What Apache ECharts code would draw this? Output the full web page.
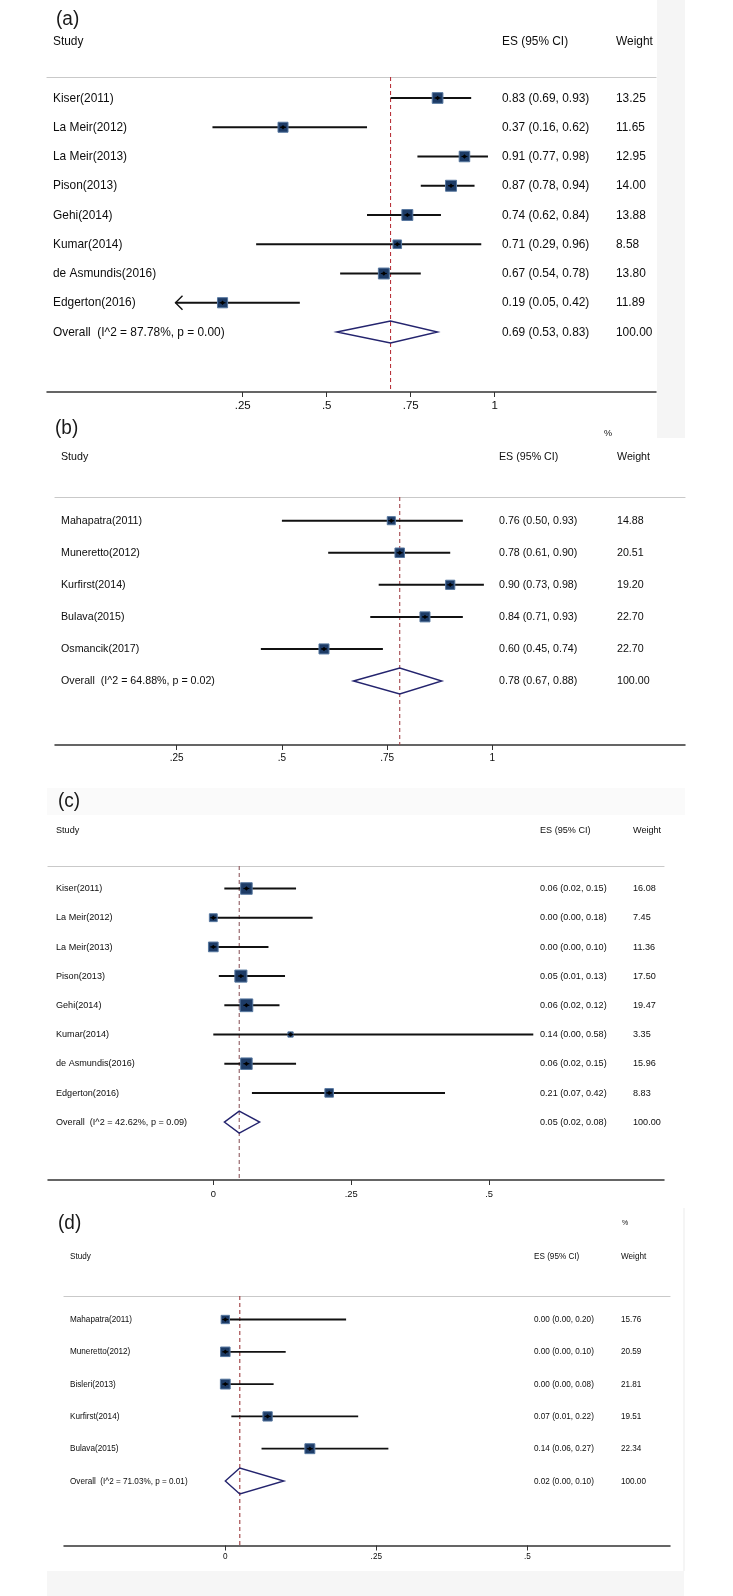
<!DOCTYPE html>
<html><head><meta charset="utf-8">
<script src="https://cdn.jsdelivr.net/npm/echarts@6/dist/echarts.min.js"></script>
<style>html,body{margin:0;padding:0;background:#fff}#c{width:733px;height:1596px}</style>
</head><body><div id="c"></div>
<script>
// ---------- Panel (a) ----------
const A_studies = ['Kiser(2011)','La Meir(2012)','La Meir(2013)','Pison(2013)','Gehi(2014)','Kumar(2014)','de Asmundis(2016)','Edgerton(2016)','Overall  (I^2 = 87.78%, p = 0.00)'];
const A_es = [0.83,0.37,0.91,0.87,0.74,0.71,0.67,0.19,0.69];
const A_lo = [0.69,0.16,0.77,0.78,0.62,0.29,0.54,0.05,0.53];
const A_hi = [0.93,0.62,0.98,0.94,0.84,0.96,0.78,0.42,0.83];
const A_weight = [13.25,11.65,12.95,14.00,13.88,8.58,13.80,11.89,100.00];
const A_esText = ['0.83 (0.69, 0.93)','0.37 (0.16, 0.62)','0.91 (0.77, 0.98)','0.87 (0.78, 0.94)','0.74 (0.62, 0.84)','0.71 (0.29, 0.96)','0.67 (0.54, 0.78)','0.19 (0.05, 0.42)','0.69 (0.53, 0.83)'];
const A_wText = ['13.25','11.65','12.95','14.00','13.88','8.58','13.80','11.89','100.00'];
const A_arrow = [0,0,0,0,0,0,0,1,0];
const A_ticks = [0.25,0.5,0.75,1];
const A_tickLabels = ['.25','.5','.75','1'];

// ---------- Panel (b) ----------
const B_studies = ['Mahapatra(2011)','Muneretto(2012)','Kurfirst(2014)','Bulava(2015)','Osmancik(2017)','Overall  (I^2 = 64.88%, p = 0.02)'];
const B_es = [0.76,0.78,0.90,0.84,0.60,0.78];
const B_lo = [0.50,0.61,0.73,0.71,0.45,0.67];
const B_hi = [0.93,0.90,0.98,0.93,0.74,0.88];
const B_weight = [14.88,20.51,19.20,22.70,22.70,100.00];
const B_esText = ['0.76 (0.50, 0.93)','0.78 (0.61, 0.90)','0.90 (0.73, 0.98)','0.84 (0.71, 0.93)','0.60 (0.45, 0.74)','0.78 (0.67, 0.88)'];
const B_wText = ['14.88','20.51','19.20','22.70','22.70','100.00'];
const B_arrow = [0,0,0,0,0,0];
const B_ticks = [0.25,0.5,0.75,1];
const B_tickLabels = ['.25','.5','.75','1'];

// ---------- Panel (c) ----------
const C_studies = ['Kiser(2011)','La Meir(2012)','La Meir(2013)','Pison(2013)','Gehi(2014)','Kumar(2014)','de Asmundis(2016)','Edgerton(2016)','Overall  (I^2 = 42.62%, p = 0.09)'];
const C_es = [0.06,0.00,0.00,0.05,0.06,0.14,0.06,0.21,0.047];
const C_lo = [0.02,0.00,0.00,0.01,0.02,0.00,0.02,0.07,0.02];
const C_hi = [0.15,0.18,0.10,0.13,0.12,0.58,0.15,0.42,0.084];
const C_weight = [16.08,7.45,11.36,17.50,19.47,3.35,15.96,8.83,100.00];
const C_esText = ['0.06 (0.02, 0.15)','0.00 (0.00, 0.18)','0.00 (0.00, 0.10)','0.05 (0.01, 0.13)','0.06 (0.02, 0.12)','0.14 (0.00, 0.58)','0.06 (0.02, 0.15)','0.21 (0.07, 0.42)','0.05 (0.02, 0.08)'];
const C_wText = ['16.08','7.45','11.36','17.50','19.47','3.35','15.96','8.83','100.00'];
const C_arrow = [0,0,0,0,0,0,0,0,0];
const C_ticks = [0,0.25,0.5];
const C_tickLabels = ['0','.25','.5'];

// ---------- Panel (d) ----------
const D_studies = ['Mahapatra(2011)','Muneretto(2012)','Bisleri(2013)','Kurfirst(2014)','Bulava(2015)','Overall  (I^2 = 71.03%, p = 0.01)'];
const D_es = [0.00,0.00,0.00,0.07,0.14,0.024];
const D_lo = [0.00,0.00,0.00,0.01,0.06,0.00];
const D_hi = [0.20,0.10,0.08,0.22,0.27,0.097];
const D_weight = [15.76,20.59,21.81,19.51,22.34,100.00];
const D_esText = ['0.00 (0.00, 0.20)','0.00 (0.00, 0.10)','0.00 (0.00, 0.08)','0.07 (0.01, 0.22)','0.14 (0.06, 0.27)','0.02 (0.00, 0.10)'];
const D_wText = ['15.76','20.59','21.81','19.51','22.34','100.00'];
const D_arrow = [0,0,0,0,0,0];
const D_ticks = [0,0.25,0.5];
const D_tickLabels = ['0','.25','.5'];

const PANEL_LABELS = ['(a)','(b)','(c)','(d)'];
const HEADERS = ['Study','ES (95% CI)','Weight'];
const PCT = '%';

// ---------- layout (positions / styles only) ----------
const FONT = '"Liberation Sans", Arial, Helvetica, sans-serif';
const TEXT_COLOR = '#0d0d0d';
const panels = [
  {studies:A_studies, es:A_es, lo:A_lo, hi:A_hi, w:A_weight, esText:A_esText, wText:A_wText, arrow:A_arrow, ticks:A_ticks, tickLabels:A_tickLabels,
   grid:{left:47, top:77, width:609, height:315}, xMin:-0.33244, xMax:1.48006, yMin:-0.7179, yMax:10.0513,
   font:12.8, sx:0.93, tickFont:11.5, tickMargin:8, nameX:53, esX:502, wX:616, k:2.93, dH:22, ciW:2, ref:'#b8333b',
   lab:[56,19], headY:41, pct:null},
  {studies:B_studies, es:B_es, lo:B_lo, hi:B_hi, w:B_weight, esText:B_esText, wText:B_wText, arrow:B_arrow, ticks:B_ticks, tickLabels:B_tickLabels,
   grid:{left:55, top:497, width:630, height:248}, xMin:-0.03921, xMax:1.45794, yMin:-0.7392, yMax:6.9963,
   font:10.9, sx:0.98, tickFont:10, tickMargin:8, nameX:61, esX:499, wX:617, k:2.1, dH:26, ciW:2, ref:'#a3444a',
   lab:[55,428], headY:457, pct:[604,433]},
  {studies:C_studies, es:C_es, lo:C_lo, hi:C_hi, w:C_weight, esText:C_esText, wText:C_wText, arrow:C_arrow, ticks:C_ticks, tickLabels:C_tickLabels,
   grid:{left:48, top:866, width:616, height:314}, xMin:-0.29962, xMax:0.81693, yMin:-0.7705, yMax:9.9829,
   font:9.9, sx:0.92, tickFont:9.4, tickMargin:10, nameX:56, esX:540, wX:633, k:2.88, dH:22, ciW:2, ref:'#8e5a5e',
   lab:[58,801], headY:830, pct:null},
  {studies:D_studies, es:D_es, lo:D_lo, hi:D_hi, w:D_weight, esText:D_esText, wText:D_wText, arrow:D_arrow, ticks:D_ticks, tickLabels:D_tickLabels,
   grid:{left:64, top:1296, width:606, height:249.5}, xMin:-0.26705, xMax:0.73626, yMin:-0.7276, yMax:6.9969,
   font:9.4, sx:0.87, tickFont:8.2, tickMargin:7, nameX:70, esX:534, wX:621, k:2.1, dH:26, ciW:1.8, ref:'#9c3b3e',
   lab:[58,1223], headY:1256, pct:[622,1223]}
];

function txt(x, y, s, size, sx, color, extra) {
  return Object.assign({
    type:'text', x:x, y:y, scaleX:sx, scaleY:1,
    style:{text:s, x:0, y:0, font: size + 'px ' + FONT, fill: color || TEXT_COLOR,
      align:'left', verticalAlign:'middle', textAlign:'left', textVerticalAlign:'middle'}
  }, extra || {});
}

const grids = [], xAxes = [], yAxes = [], series = [], graphics = [];

// faint grey background strips of the original figure
graphics.push({type:'rect', shape:{x:657, y:0, width:28, height:438}, style:{fill:'#f5f5f5'}, z:-10});
graphics.push({type:'rect', shape:{x:47, y:788, width:638, height:27}, style:{fill:'#fafafa'}, z:-10});
graphics.push({type:'rect', shape:{x:47, y:1571, width:637, height:25}, style:{fill:'#f6f6f6'}, z:-10});
graphics.push({type:'rect', shape:{x:683.5, y:1208, width:1, height:363}, style:{fill:'#ebebeb'}, z:-10});

panels.forEach((p, pi) => {
  grids.push(Object.assign({containLabel:false}, p.grid));
  const n = p.studies.length;
  // bottom value axis
  xAxes.push({
    type:'value', gridIndex:pi, position:'bottom', min:p.xMin, max:p.xMax,
    splitLine:{show:false},
    axisLine:{show:true, onZero:false, lineStyle:{color:'#333', width:1.5}},
    axisTick:{show:true, customValues:p.ticks, length:5, inside:false, lineStyle:{color:'#333', width:1}},
    axisLabel:{show:true, customValues:p.ticks, margin:p.tickMargin, color:TEXT_COLOR, fontSize:p.tickFont, fontFamily:FONT,
      formatter:(v) => { for (let t=0;t<p.ticks.length;t++) if (Math.abs(p.ticks[t]-v)<1e-9) return p.tickLabels[t]; return ''; }}
  });
  // top separator line
  xAxes.push({
    type:'value', gridIndex:pi, position:'top', min:p.xMin, max:p.xMax,
    splitLine:{show:false}, axisTick:{show:false}, axisLabel:{show:false},
    axisLine:{show:true, onZero:false, lineStyle:{color:'#c9c9c9', width:1.2}}
  });
  yAxes.push({type:'value', gridIndex:pi, inverse:true, min:p.yMin, max:p.yMax, show:false});

  const xi = pi*2, yi = pi;
  const ovEs = p.es[n-1];
  // dashed reference line at overall estimate
  series.push({
    type:'line', xAxisIndex:xi, yAxisIndex:yi, silent:true, animation:false, z:1,
    symbol:'none', data:[[ovEs, p.yMin],[ovEs, p.yMax]],
    lineStyle:{color:p.ref, width:1.1, type:[4,3]}
  });
  // study marks
  const rows = p.studies.map((s, i) => [p.es[i], i, p.lo[i], p.hi[i], p.w[i], p.arrow[i], i === n-1 ? 1 : 0]);
  series.push({
    type:'custom', xAxisIndex:xi, yAxisIndex:yi, animation:false, clip:false, z:3,
    data:rows, encode:{x:0, y:1},
    renderItem:(params, api) => {
      const es = api.value(0), i = api.value(1), lo = api.value(2), hi = api.value(3), w = api.value(4), arr = api.value(5), ov = api.value(6);
      const c = api.coord([es, i]), l = api.coord([lo, i]), h = api.coord([hi, i]);
      const y = c[1];
      if (ov) {
        return {type:'polygon', shape:{points:[[l[0], y],[c[0], y - p.dH/2],[h[0], y],[c[0], y + p.dH/2]]},
          style:{fill:'none', stroke:'#24246e', lineWidth:1.4}};
      }
      const sz = p.k * Math.sqrt(w);
      const ch = [
        {type:'line', shape:{x1:l[0], y1:y, x2:h[0], y2:y}, style:{stroke:'#111', lineWidth:p.ciW}},
        {type:'rect', shape:{x:c[0]-sz/2, y:y-sz/2, width:sz, height:sz}, style:{fill:'#1d3b66', stroke:'#56779f', lineWidth:1}},
        {type:'polygon', shape:{points:[[c[0]-2.2,y],[c[0],y-2.2],[c[0]+2.2,y],[c[0],y+2.2]]}, style:{fill:'#000'}},
        {type:'line', shape:{x1:c[0]-3, y1:y, x2:c[0]+3, y2:y}, style:{stroke:'#000', lineWidth:1.2}}
      ];
      if (arr) {
        ch.push({type:'polyline', shape:{points:[[l[0]+7, y-7],[l[0], y],[l[0]+7, y+7]]}, style:{stroke:'#111', lineWidth:1.4, fill:'none'}});
      }
      return {type:'group', children:ch};
    }
  });
  // row texts: study, ES (95% CI), weight
  const trows = p.studies.map((s, i) => [0, i]);
  series.push({
    type:'custom', xAxisIndex:xi, yAxisIndex:yi, animation:false, clip:false, z:4, silent:true,
    data:trows, encode:{x:0, y:1},
    renderItem:(params, api) => {
      const i = api.value(1);
      const y = api.coord([0, i])[1];
      return {type:'group', children:[
        txt(p.nameX, y, p.studies[i], p.font, p.sx),
        txt(p.esX, y, p.esText[i], p.font, p.sx),
        txt(p.wX, y, p.wText[i], p.font, p.sx)
      ]};
    }
  });
  // headers
  graphics.push(txt(p.lab[0], p.lab[1], PANEL_LABELS[pi], 20, 0.95, '#1a1a1a'));
  graphics.push(txt(p.nameX, p.headY, HEADERS[0], p.font, p.sx));
  graphics.push(txt(p.esX, p.headY, HEADERS[1], p.font, p.sx));
  graphics.push(txt(p.wX, p.headY, HEADERS[2], p.font, p.sx));
  if (p.pct) graphics.push(txt(p.pct[0], p.pct[1], PCT, p.font * 0.85, p.sx));
});

const chart = echarts.init(document.getElementById('c'), null, {renderer:'canvas'});
chart.setOption({
  backgroundColor:'#ffffff',
  animation:false,
  grid:grids, xAxis:xAxes, yAxis:yAxes, series:series,
  graphic:{elements:graphics}
});
</script>
</body></html>
